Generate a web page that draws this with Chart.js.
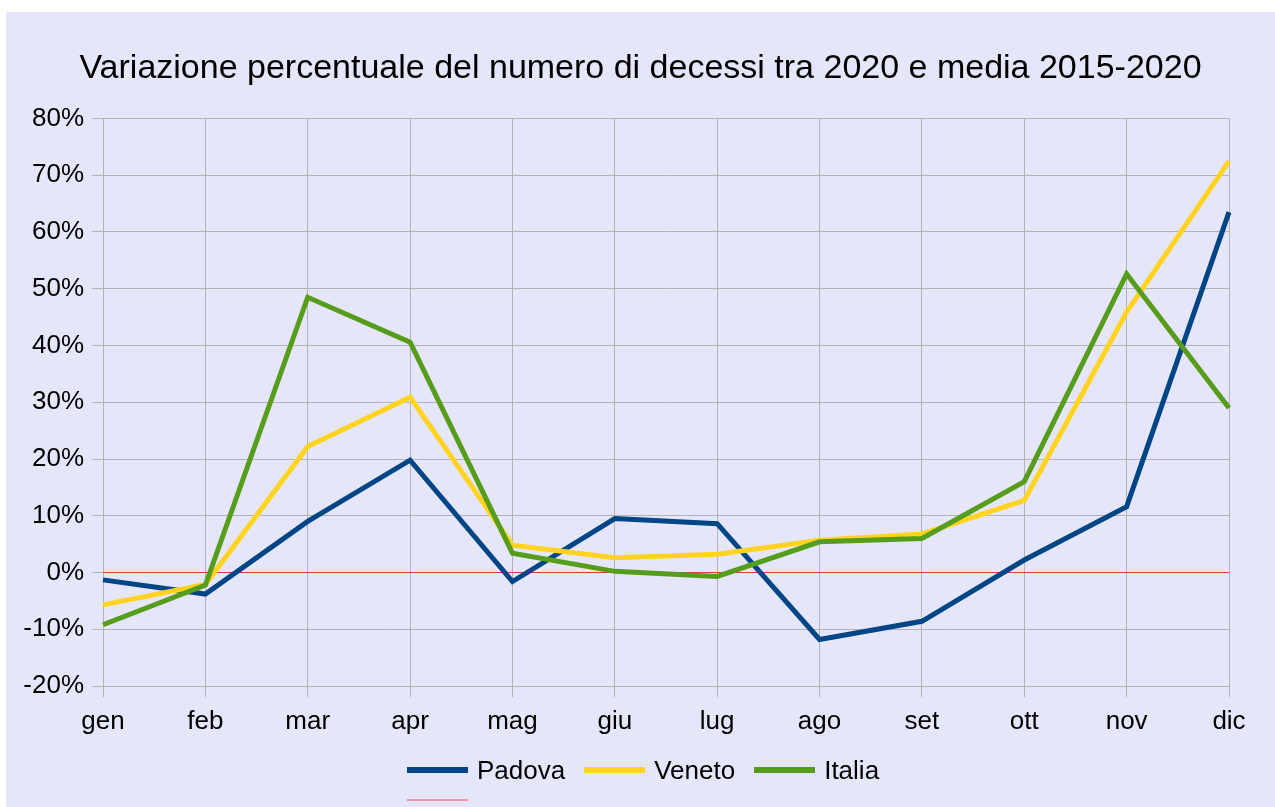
<!DOCTYPE html>
<html>
<head>
<meta charset="utf-8">
<script src="https://cdn.jsdelivr.net/npm/chart.js@4/dist/chart.umd.min.js"></script>
<style>
  html, body { margin: 0; padding: 0; background: #ffffff; }
  #wrap { position: absolute; left: 6px; top: 12px; width: 1269px; height: 795px; background: #e6e6fa; }
  #c { position: absolute; left: 0; top: 0; }
  #legend { position: absolute; left: 401px; top: 743px; font-family: 'Liberation Sans', Arial, sans-serif; font-size: 26px; color: #000; }
  .row { display: flex; align-items: center; height: 30px; }
  .item { display: flex; align-items: center; margin-right: 19px; }
  .sw { display: inline-block; width: 61px; margin-right: 9px; }
</style>
</head>
<body>
<div id="wrap">
  <canvas id="c" width="1269" height="795"></canvas>
  <div id="legend"></div>
</div>
<script>
const titleText = 'Variazione percentuale del numero di decessi tra 2020 e media 2015-2020';
const months = ['gen','feb','mar','apr','mag','giu','lug','ago','set','ott','nov','dic'];
const padova = [-1.3, -3.8, 9.0, 19.8, -1.6, 9.5, 8.6, -11.8, -8.6, 2.2, 11.6, 63.5];
const veneto = [-5.7, -2.1, 22.2, 30.9, 4.8, 2.6, 3.2, 5.7, 6.8, 12.7, 45.9, 72.5];
const italia = [-9.2, -2.2, 48.5, 40.6, 3.4, 0.2, -0.7, 5.4, 6.0, 16.0, 52.6, 29.0];
const zero   = [0, 0, 0, 0, 0, 0, 0, 0, 0, 0, 0, 0];
const seriesNames = ['Padova', 'Veneto', 'Italia', ''];
const yMin = -20, yMax = 80, yStep = 10;

const FONT = "'Liberation Sans', Arial, sans-serif";
const gridColor = '#b3b3b3';

function ds(label, data, color, width, order) {
  return { label, data, borderColor: color, backgroundColor: color, borderWidth: width,
           pointRadius: 0, pointHoverRadius: 0, tension: 0, fill: false, order,
           borderCapStyle: 'butt', borderJoinStyle: 'miter' };
}

const htmlLegend = {
  id: 'htmlLegend',
  afterUpdate(chart) {
    const box = document.getElementById('legend');
    box.innerHTML = '';
    const sets = chart.data.datasets;
    const rows = [[0, 1, 2], [3]];
    rows.forEach(r => {
      const row = document.createElement('div');
      row.className = 'row';
      r.forEach(i => {
        const d = sets[i];
        const it = document.createElement('div');
        it.className = 'item';
        const sw = document.createElement('span');
        sw.className = 'sw';
        sw.style.background = d.legendColor || d.borderColor;
        sw.style.height = (d.legendHeight || 6) + 'px';
        it.appendChild(sw);
        if (d.label) {
          const t = document.createElement('span');
          t.textContent = d.label;
          it.appendChild(t);
        }
        row.appendChild(it);
      });
      box.appendChild(row);
    });
  }
};

const zeroDs = ds(seriesNames[3], zero, 'rgba(255,0,0,0.7)', 1.2, 3);
zeroDs.legendColor = '#f0959f';
zeroDs.legendHeight = 2;

new Chart(document.getElementById('c'), {
  type: 'line',
  data: {
    labels: months,
    datasets: [
      ds(seriesNames[0], padova, '#004586', 5, 2),
      ds(seriesNames[1], veneto, '#ffd320', 5, 1),
      ds(seriesNames[2], italia, '#579d1c', 5, 0),
      zeroDs
    ]
  },
  options: {
    responsive: false,
    animation: false,
    events: [],
    layout: { padding: { left: 0, right: 0, top: 0, bottom: 0 } },
    plugins: {
      legend: { display: false },
      tooltip: { enabled: false },
      title: {
        display: true, text: titleText, color: '#000',
        font: { family: FONT, size: 34, weight: 'normal', lineHeight: 1.2 },
        padding: { top: 36, bottom: 29.7 }
      }
    },
    scales: {
      x: {
        type: 'category', offset: false,
        grid: { color: gridColor, lineWidth: 1, tickLength: 11, drawTicks: true },
        border: { color: gridColor, width: 1 },
        ticks: { color: '#000', font: { family: FONT, size: 26 }, padding: 9, maxRotation: 0, autoSkip: false },
        afterFit(s) { s.height = 121; }
      },
      y: {
        min: yMin, max: yMax,
        grid: { color: gridColor, lineWidth: 1, tickLength: 11 },
        border: { color: gridColor, width: 1 },
        ticks: { stepSize: yStep, color: '#000', font: { family: FONT, size: 26 }, padding: 8,
                 callback: v => v + '%' },
        afterFit(s) { s.width = 97; }
      },
      yRight: {
        position: 'right', min: yMin, max: yMax,
        grid: { display: false },
        border: { display: false },
        ticks: { display: false },
        afterFit(s) { s.width = 46; }
      }
    }
  },
  plugins: [htmlLegend]
});
</script>
</body>
</html>
